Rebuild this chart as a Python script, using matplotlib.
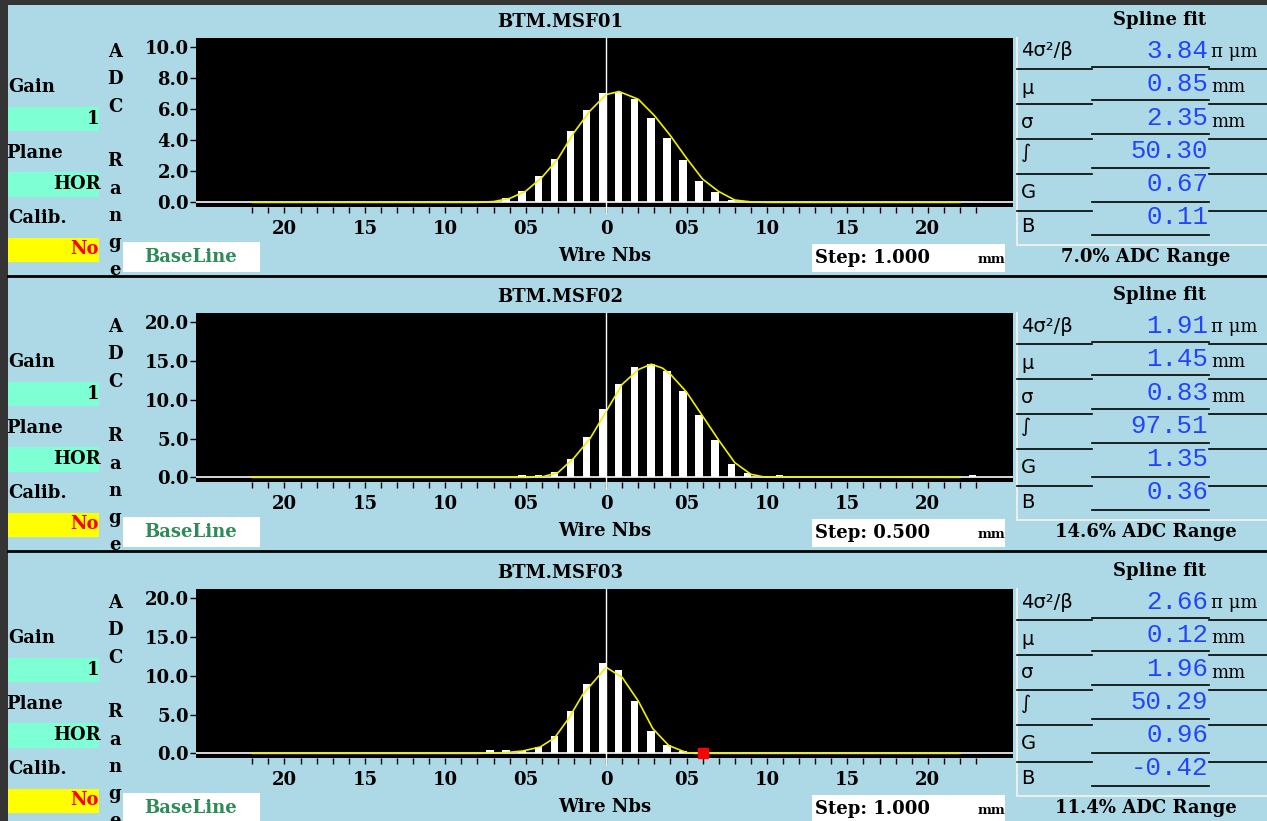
import matplotlib
matplotlib.use('Agg')
import matplotlib.pyplot as plt
from matplotlib.patches import Rectangle
from matplotlib.lines import Line2D
import numpy as np

W, H = 1267, 821

names = ['BTM.MSF01', 'BTM.MSF02', 'BTM.MSF03']
y_top = [10, 20, 20]
y_ticks = [[0, 2, 4, 6, 8, 10], [0, 5, 10, 15, 20], [0, 5, 10, 15, 20]]
steps = ['1.000', '0.500', '1.000']
adc_range = ['7.0%', '14.6%', '11.4%']

# wire profiles (wire number, ADC counts)
wires1 = [-7, -6, -5, -4, -3, -2, -1, 0, 1, 2, 3, 4, 5, 6, 7, 8, 9]
adc1 = [0.1, 0.28, 0.76, 1.69, 2.81, 4.61, 5.95, 7.03, 7.14, 6.67, 5.47, 4.13, 2.71, 1.36, 0.65, 0.17, 0.1]
wires2 = [-5, -4, -3, -2, -1, 0, 1, 2, 3, 4, 5, 6, 7, 8, 9, 10, 11, 23]
adc2 = [0.3, 0.3, 0.7, 2.4, 5.2, 8.8, 12.0, 14.2, 14.6, 13.7, 11.1, 8.0, 4.8, 1.7, 0.5, 0.2, 0.25, 0.25]
wires3 = [-7, -6, -5, -4, -3, -2, -1, 0, 1, 2, 3, 4, 5]
adc3 = [0.38, 0.38, 0.3, 0.82, 2.24, 5.4, 9.0, 11.6, 10.7, 6.8, 2.9, 1.03, 0.3]

# spline fit curves (yellow)
fit_x1 = [-22, -8, -7, -6, -5, -4, -3, -2, -1, 0, 0.8, 2, 3, 4, 5, 6, 7, 8, 9, 10, 22]
fit_y1 = [0, 0, 0.05, 0.25, 0.72, 1.6, 2.8, 4.5, 5.9, 6.95, 7.15, 6.65, 5.6, 4.3, 2.85, 1.5, 0.7, 0.15, 0.03, 0, 0]
fit_x2 = [-22, -5, -4, -3, -2, -1, 0, 1, 2, 2.8, 3.5, 4, 5, 6, 7, 8, 9, 9.8, 22]
fit_y2 = [0, 0, 0.05, 0.6, 2.5, 5.0, 8.5, 12.0, 13.9, 14.6, 14.1, 13.3, 11.0, 7.9, 4.8, 1.9, 0.4, 0.05, 0]
fit_x3 = [-22, -8, -7.2, -6.2, -5.2, -4.1, -3.2, -2.3, -1.45, 0, 1.0, 2.0, 2.9, 3.9, 5.0, 5.5, 22]
fit_y3 = [0, 0, 0.03, 0.1, 0.3, 0.82, 2.0, 4.6, 7.6, 11.1, 9.8, 6.75, 3.2, 1.0, 0.1, 0, 0]
alarm_x3 = [6]
alarm_y3 = [0]

par_labels = ['4σ²/β', 'μ', 'σ', '∫', 'G', 'B']
par_units = ['π μm', 'mm', 'mm', '', '', '']
values1 = ['3.84', '0.85', '2.35', '50.30', '0.67', '0.11']
values2 = ['1.91', '1.45', '0.83', '97.51', '1.35', '0.36']
values3 = ['2.66', '0.12', '1.96', '50.29', '0.96', '-0.42']

profiles = [(wires1, adc1, fit_x1, fit_y1, values1),
            (wires2, adc2, fit_x2, fit_y2, values2),
            (wires3, adc3, fit_x3, fit_y3, values3)]

BG = '#add8e6'
MINT = '#7fffd4'
FONT = 'DejaVu Serif'
MONO = 'Liberation Mono'

fig = plt.figure(figsize=(W / 100, H / 100), dpi=100)
fig.patch.set_facecolor('#343434')


def fx(x):
    return x / W


def fy(y):
    return 1 - y / H


def rect(x0, y0, x1, y1, color, z=1):
    fig.add_artist(Rectangle((fx(x0), fy(y1)), (x1 - x0) / W, (y1 - y0) / H,
                             transform=fig.transFigure, facecolor=color,
                             edgecolor='none', zorder=z))


def hline(x0, x1, y, color='black', lw=1.2, z=3):
    fig.add_artist(Line2D([fx(x0), fx(x1)], [fy(y), fy(y)], color=color, lw=lw,
                          transform=fig.transFigure, zorder=z))


def txt(x, y, s, **kw):
    kw.setdefault('family', FONT)
    kw.setdefault('weight', 'bold')
    kw.setdefault('size', 13)
    kw.setdefault('va', 'center')
    fig.text(fx(x), fy(y), s, **kw)


rect(8, 5, W, H, BG, z=0)

offsets = [0, 275, 551]
for p, (wires, adc, fit_x, fit_y, vals) in enumerate(profiles):
    off = offsets[p]
    top = y_top[p]

    ax = fig.add_axes([fx(196), fy(207 + off), (1013 - 196) / W, (207 - 38) / H])
    ax.set_facecolor('black')
    for s in ax.spines.values():
        s.set_visible(False)
    ax.set_xlim(-25.5, 25.3)
    ax.set_ylim(-0.03 * top, 1.06 * top)

    ax.axhline(0, color='#d8d8d8', lw=1.4, zorder=2)
    ax.bar(np.array(wires) - 0.22, adc, width=0.46, color='white', zorder=3)
    ax.plot(fit_x, fit_y, color='#f0f000', lw=1.2, zorder=4)
    ax.axvline(0, ymin=-0.035, ymax=1, color='white', lw=1, clip_on=False, zorder=5)
    if p == 2:
        ax.plot(alarm_x3, alarm_y3, 's', color='red', ms=6.5, zorder=6, clip_on=False)

    xt = list(range(-22, 24))
    xl = []
    for w in xt:
        if w == 0:
            xl.append('0')
        elif w % 5 == 0 and abs(w) <= 20:
            xl.append('%02d' % abs(w))
        else:
            xl.append('')
    ax.set_xticks(xt)
    ax.set_xticklabels(xl, family=FONT, weight='bold', size=13)
    ax.tick_params(axis='x', direction='out', length=4.5, width=1, color='black', pad=5)
    ax.set_yticks(y_ticks[p])
    ax.set_yticklabels(['%.1f' % t for t in y_ticks[p]], family=FONT, weight='bold', size=13)
    ax.tick_params(axis='y', direction='out', length=4, width=1, color='black', pad=1)

    # titles
    txt(560, 22 + off, names[p], ha='center')
    txt(1160, 20 + off, 'Spline fit', ha='center')
    txt(605, 256 + off, 'Wire Nbs', ha='center')

    # left controls
    txt(8, 87 + off, 'Gain', ha='left')
    rect(8, 107 + off, 99, 131 + off, MINT)
    txt(99, 119 + off, '1', ha='right')
    txt(6, 153 + off, 'Plane', ha='left')
    rect(8, 172 + off, 99, 197 + off, MINT)
    txt(101, 184 + off, 'HOR', ha='right')
    txt(8, 218 + off, 'Calib.', ha='left')
    rect(8, 238 + off, 99, 262 + off, '#ffff00')
    txt(99, 249 + off, 'No', ha='right', color='red')

    for i, ch in enumerate('ADC Range'):
        if ch != ' ':
            txt(115, 52 + off + i * 27.3, ch, ha='center', zorder=1)

    rect(123, 242 + off, 260, 272 + off, 'white', z=2)
    txt(191, 257 + off, 'BaseLine', ha='center', color='#2e8b57', zorder=3)

    rect(812, 244 + off, 1005, 272 + off, 'white', z=2)
    txt(815, 258 + off, 'Step: ' + steps[p], ha='left', zorder=3)
    txt(978, 259 + off, 'mm', ha='left', size=9.5, zorder=3)

    # fit table
    fig.add_artist(Line2D([fx(1017), fx(1017)], [fy(38 + off), fy(245 + off)],
                          color='#eeeeee', lw=1.4, transform=fig.transFigure, zorder=3))
    hline(1017, W, 245 + off, color='#eeeeee', lw=1.4)
    left_y = [69, 104, 139, 174, 211]
    mid_y = [67, 100, 134, 168, 202, 235]
    for y in left_y:
        hline(1017, 1092, y + off)
        hline(1209, W, y + off)
    for y in mid_y:
        hline(1092, 1209, y + off)
    lab_y = [51, 88, 122, 152, 192, 227]
    val_y = [51, 84, 118, 151, 184, 217]
    for i in range(6):
        txt(1021, lab_y[i] + off, par_labels[i], family='DejaVu Sans', weight='normal', size=14, ha='left')
        txt(1208, val_y[i] + off, vals[i], family=MONO, weight='normal', size=18.5, ha='right', color='#2244ff')
        if par_units[i]:
            txt(1211, 52 + off + (i * 35 if i else 0), par_units[i], family='DejaVu Serif', weight='normal', size=13, ha='left')
    txt(1146, 257 + off, adc_range[p] + ' ADC Range', ha='center')

# panel separators
hline(8, W, 276, lw=2)
hline(8, W, 551, lw=2)

fig.savefig('out.png', dpi=100, facecolor=fig.get_facecolor())
